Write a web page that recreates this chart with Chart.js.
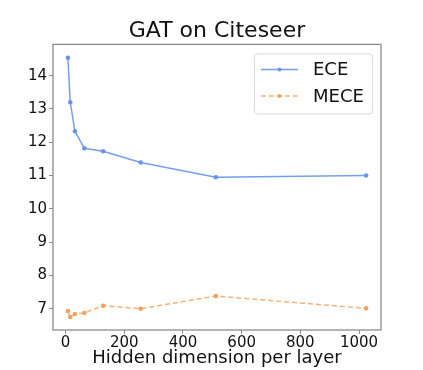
<!DOCTYPE html>
<html>
<head>
<meta charset="utf-8">
<script src="https://cdn.jsdelivr.net/npm/chart.js@4"></script>
<style>
  html, body { margin: 0; padding: 0; background: #fff; }
  #wrap { width: 423px; height: 370px; }
</style>
</head>
<body>
<div id="wrap"><canvas id="chart" width="423" height="370"></canvas></div>
<script>
// hidden dimension per layer
const hiddenDims = [8, 16, 32, 64, 128, 256, 512, 1024];
const eceValues = [14.54, 13.2, 12.33, 11.82, 11.73, 11.39, 10.95, 11.0];
const meceValues = [6.93, 6.75, 6.84, 6.87, 7.09, 7.0, 7.38, 7.01];
const xTicks = [0, 200, 400, 600, 800, 1000];
const yTicks = [7, 8, 9, 10, 11, 12, 13, 14];

const FONT = "'DejaVu Sans', sans-serif";
const axisColor = "#8c8c8c";

function toPoints(xs, ys) {
    return xs.map((x, i) => ({ x: x, y: ys[i] }));
}

// draws the box round the plot area, like matplotlib spines
const framePlugin = {
    id: "frame",
    afterDraw(chart) {
        const a = chart.chartArea;
        const ctx = chart.ctx;
        ctx.save();
        ctx.strokeStyle = axisColor;
        ctx.lineWidth = 1.3;
        ctx.strokeRect(a.left, a.top, a.right - a.left, a.bottom - a.top);
        ctx.restore();
    }
};

// legend box in the upper right corner of the plot
const boxLegend = {
    id: "boxLegend",
    afterDraw(chart) {
        const a = chart.chartArea;
        const ctx = chart.ctx;
        const w = 118, h = 60;
        const x0 = a.right - 9 - w, y0 = a.top + 9;
        ctx.save();
        ctx.fillStyle = "rgba(255,255,255,0.8)";
        ctx.strokeStyle = "#dcdcdc";
        ctx.lineWidth = 1;
        ctx.beginPath();
        ctx.roundRect(x0 + 0.5, y0 + 0.5, w, h, 3);
        ctx.fill();
        ctx.stroke();

        chart.data.datasets.forEach((ds, i) => {
            const y = y0 + 16 + i * 26.5;
            ctx.strokeStyle = ds.borderColor;
            ctx.lineWidth = ds.borderWidth;
            ctx.setLineDash(ds.borderDash || []);
            ctx.beginPath();
            ctx.moveTo(x0 + 7, y);
            ctx.lineTo(x0 + 44, y);
            ctx.stroke();
            ctx.setLineDash([]);
            ctx.fillStyle = ds.pointBackgroundColor;
            ctx.beginPath();
            ctx.arc(x0 + 25.5, y, 2, 0, Math.PI * 2);
            ctx.fill();

            ctx.fillStyle = "#111";
            ctx.font = "18px " + FONT;
            ctx.textBaseline = "middle";
            ctx.textAlign = "left";
            ctx.fillText(ds.label, x0 + 59, y + 1);
        });
        ctx.restore();
    }
};

const ctx = document.getElementById("chart").getContext("2d");
const chart = new Chart(ctx, {
    type: "line",
    data: {
        datasets: [{
                label: "ECE",
                data: toPoints(hiddenDims, eceValues),
                borderColor: "rgba(100,149,237,0.9)",
                backgroundColor: "rgba(100,149,237,0.9)",
                pointBackgroundColor: "#6a95e8",
                pointBorderWidth: 0,
                pointRadius: 2.3,
                borderWidth: 1.5,
                fill: false,
                tension: 0
            },
            {
                label: "MECE",
                data: toPoints(hiddenDims, meceValues),
                borderColor: "rgba(244,164,96,0.85)",
                backgroundColor: "rgba(244,164,96,0.85)",
                pointBackgroundColor: "#f4a060",
                pointBorderWidth: 0,
                pointRadius: 2.3,
                borderWidth: 1.5,
                borderDash: [5, 3],
                fill: false,
                tension: 0
            }
        ]
    },
    options: {
        responsive: false,
        animation: false,
        devicePixelRatio: 1,
        layout: { padding: { left: 0, right: 42, top: 0, bottom: 0 } },
        plugins: {
            legend: { display: false },
            tooltip: { enabled: false },
            title: {
                display: true,
                text: "GAT on Citeseer",
                fullSize: false,
                color: "#111",
                font: { family: FONT, size: 22, weight: "normal", lineHeight: 1.2 },
                padding: { top: 18, bottom: 0 }
            }
        },
        scales: {
            x: {
                type: "linear",
                min: -42.8,
                max: 1074.8,
                afterBuildTicks: (scale) => {
                    scale.ticks = xTicks.map(v => ({ value: v }));
                },
                afterFit: (scale) => { scale.height = 40; },
                grid: {
                    drawOnChartArea: false,
                    drawTicks: true,
                    tickLength: 4,
                    color: axisColor
                },
                border: { display: false },
                ticks: {
                    color: "#111",
                    padding: 0,
                    maxRotation: 0,
                    callback: (v) => String(v),
                    font: { family: FONT, size: 15 }
                },
                title: {
                    display: true,
                    text: "Hidden dimension per layer",
                    color: "#111",
                    font: { family: FONT, size: 18, lineHeight: 1.1 },
                    padding: { top: 0, bottom: 2 }
                }
            },
            y: {
                type: "linear",
                min: 6.36,
                max: 14.94,
                afterBuildTicks: (scale) => {
                    scale.ticks = yTicks.map(v => ({ value: v }));
                },
                afterFit: (scale) => { scale.width = 53; },
                grid: {
                    drawOnChartArea: false,
                    drawTicks: true,
                    tickLength: 4,
                    color: axisColor
                },
                border: { display: false },
                ticks: {
                    color: "#111",
                    padding: 2,
                    callback: (v) => String(v),
                    font: { family: FONT, size: 15 }
                }
            }
        }
    },
    plugins: [framePlugin, boxLegend]
});
</script>
</body>
</html>
